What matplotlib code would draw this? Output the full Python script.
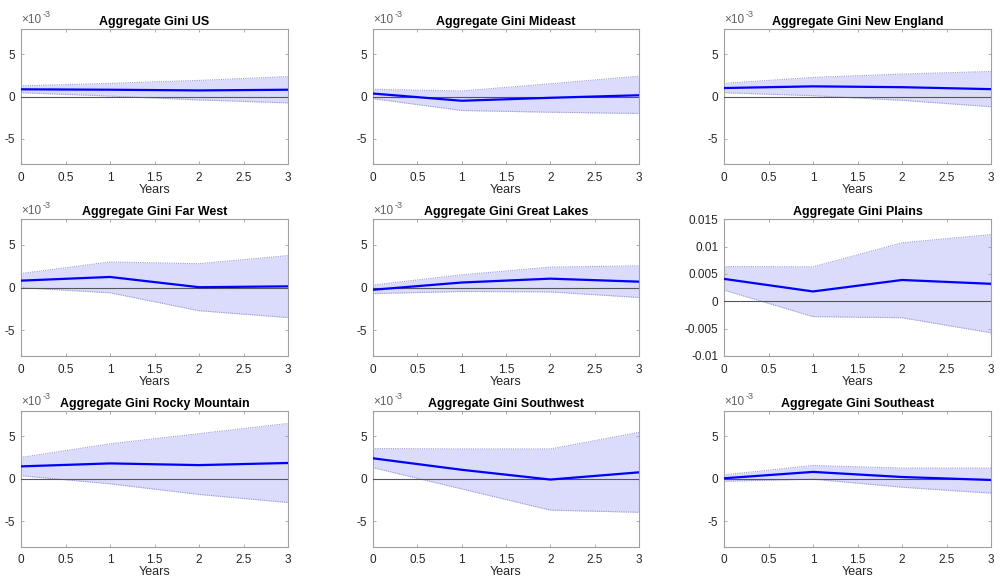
import matplotlib
matplotlib.use("Agg")
import matplotlib.pyplot as plt
import numpy as np

plt.rcParams['font.family'] = ['Liberation Sans', 'DejaVu Sans']
plt.rcParams['axes.unicode_minus'] = False

years = [0, 1, 2, 3]
titles = ["Aggregate Gini US", "Aggregate Gini Mideast", "Aggregate Gini New England",
          "Aggregate Gini Far West", "Aggregate Gini Great Lakes", "Aggregate Gini Plains",
          "Aggregate Gini Rocky Mountain", "Aggregate Gini Southwest", "Aggregate Gini Southeast"]

# values in units of 1e-3
us_mid = [0.85, 0.80, 0.72, 0.80]
us_up = [1.25, 1.55, 1.90, 2.35]
us_lo = [0.45, 0.05, -0.40, -0.75]

mideast_mid = [0.35, -0.50, -0.15, 0.15]
mideast_up = [0.85, 0.65, 1.50, 2.40]
mideast_lo = [-0.25, -1.65, -1.85, -2.00]

newengland_mid = [1.00, 1.20, 1.10, 0.87]
newengland_up = [1.55, 2.25, 2.65, 2.95]
newengland_lo = [0.45, 0.10, -0.45, -1.20]

farwest_mid = [0.82, 1.25, 0.05, 0.15]
farwest_up = [1.65, 3.00, 2.80, 3.75]
farwest_lo = [0.00, -0.60, -2.70, -3.50]

greatlakes_mid = [-0.25, 0.60, 1.05, 0.70]
greatlakes_up = [0.30, 1.50, 2.40, 2.55]
greatlakes_lo = [-0.70, -0.45, -0.50, -1.15]

plains_mid = [4.10, 1.80, 3.90, 3.20]
plains_up = [6.35, 6.30, 10.70, 12.20]
plains_lo = [2.05, -2.80, -3.00, -5.75]

rocky_mid = [1.45, 1.80, 1.60, 1.85]
rocky_up = [2.50, 4.10, 5.30, 6.50]
rocky_lo = [0.35, -0.60, -1.85, -2.80]

southwest_mid = [2.40, 1.05, -0.10, 0.75]
southwest_up = [3.55, 3.50, 3.50, 5.45]
southwest_lo = [1.30, -1.20, -3.70, -3.95]

southeast_mid = [0.05, 0.80, 0.20, -0.15]
southeast_up = [0.45, 1.55, 1.25, 1.25]
southeast_lo = [-0.30, -0.05, -1.00, -1.70]

series = [(us_mid, us_up, us_lo), (mideast_mid, mideast_up, mideast_lo),
          (newengland_mid, newengland_up, newengland_lo),
          (farwest_mid, farwest_up, farwest_lo), (greatlakes_mid, greatlakes_up, greatlakes_lo),
          (plains_mid, plains_up, plains_lo),
          (rocky_mid, rocky_up, rocky_lo), (southwest_mid, southwest_up, southwest_lo),
          (southeast_mid, southeast_up, southeast_lo)]

xticks = [0, 0.5, 1, 1.5, 2, 2.5, 3]
xticklabels = ["0", "0.5", "1", "1.5", "2", "2.5", "3"]
small_yticks = [-5, 0, 5]
plains_yticks = [-0.01, -0.005, 0, 0.005, 0.01, 0.015]
plains_yticklabels = ["-0.01", "-0.005", "0", "0.005", "0.01", "0.015"]

fig = plt.figure(figsize=(10, 5.86), dpi=100)

lefts = [0.021, 0.373, 0.724]
widths = [0.267, 0.266, 0.267]
bottoms = [0.7196, 0.3925, 0.0671]
heights = [0.2314, 0.2333, 0.232]

txtc = '#262626'
spc = '#a0a0a0'

for i, (mid, up, lo) in enumerate(series):
    r, c = divmod(i, 3)
    ax = fig.add_axes([lefts[c], bottoms[r], widths[c], heights[r]])
    scale = 1e-3
    m = np.array(mid) * scale
    u = np.array(up) * scale
    l = np.array(lo) * scale
    ax.fill_between(years, l, u, color=(0.86, 0.86, 0.99), lw=0, zorder=1)
    ax.plot(years, u, color=(0.6, 0.6, 0.8), lw=0.8, ls=(0, (1, 1)), zorder=2)
    ax.plot(years, l, color=(0.6, 0.6, 0.8), lw=0.8, ls=(0, (1, 1)), zorder=2)
    ax.axhline(0, color='#555555', lw=0.8, zorder=3)
    ax.plot(years, m, color=(0, 0, 1), lw=1.6, zorder=4)
    ax.set_xlim(0, 3)
    ax.set_xticks(xticks)
    ax.set_xticklabels(xticklabels)
    if i == 5:
        ax.set_ylim(-0.01, 0.015)
        ax.set_yticks(plains_yticks)
        ax.set_yticklabels(plains_yticklabels)
    else:
        ax.set_ylim(-8e-3, 8e-3)
        ax.set_yticks([v * 1e-3 for v in small_yticks])
        ax.set_yticklabels([str(v) for v in small_yticks])
        ax.annotate("\u00d710", xy=(0.0, 1.0), xycoords='axes fraction',
                    xytext=(0, 2), textcoords='offset points',
                    ha='left', va='bottom', fontsize=8.5, color='#606060')
        ax.annotate("-3", xy=(0.0, 1.0), xycoords='axes fraction',
                    xytext=(15.5, 7), textcoords='offset points',
                    ha='left', va='bottom', fontsize=6.5, color='#606060')
    ax.tick_params(direction='in', length=2.5, width=0.6, colors=spc, labelcolor=txtc,
                   labelsize=8.5, top=True, right=True)
    ax.tick_params(axis='x', pad=5.5)
    ax.tick_params(axis='y', pad=4)
    for s in ax.spines.values():
        s.set_color(spc)
        s.set_linewidth(0.8)
    ax.set_title(titles[i], fontsize=9, fontweight='bold', color='black', pad=3)
    ax.set_xlabel("Years", fontsize=9, color=txtc, labelpad=0)

fig.savefig("out.png", dpi=100)
